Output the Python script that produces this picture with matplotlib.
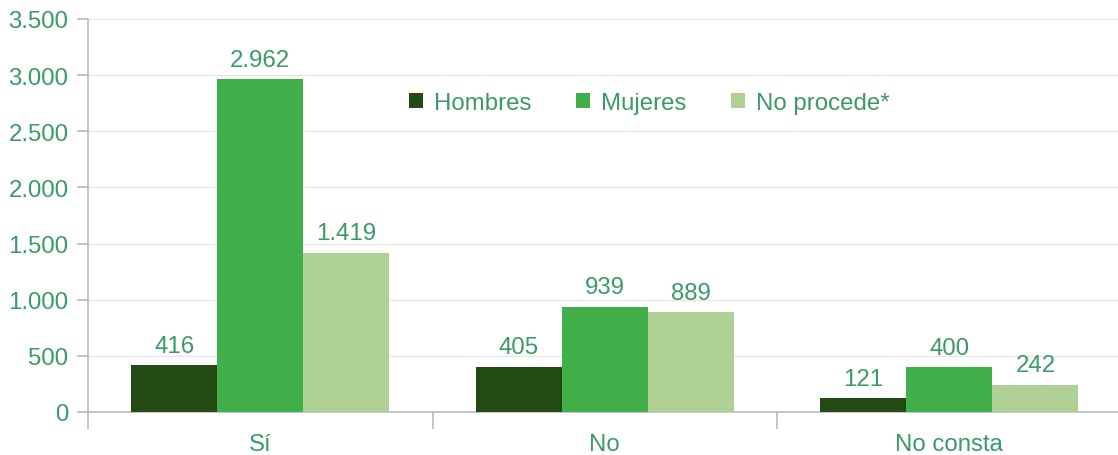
import matplotlib
matplotlib.use("Agg")
import matplotlib.pyplot as plt
import numpy as np
from matplotlib.ticker import FuncFormatter, FixedLocator

categories = ["Sí", "No", "No consta"]
series_names = ["Hombres", "Mujeres", "No procede*"]
hombres = [416, 405, 121]
mujeres = [2962, 939, 400]
no_procede = [1419, 889, 242]
colors = ["#234a14", "#41b04a", "#afd196"]
text_color = "#3a9a68"
fs = 17.3

plt.rcParams['font.family'] = ['Liberation Sans', 'DejaVu Sans']

fig = plt.figure(figsize=(11.18, 4.56), dpi=100)
ax = fig.add_axes([88/1118, 43/456, (1121.5-88)/1118, 393/456])

x = np.arange(len(categories))
w = 0.25
for i, (vals, name) in enumerate(zip([hombres, mujeres, no_procede], series_names)):
    pos = x + (i - 1) * w
    ax.bar(pos, vals, width=w, color=colors[i], label=name, zorder=3)
    for p, v in zip(pos, vals):
        ax.annotate(f"{v:,}".replace(",", "."), (p, v), xytext=(0, 6),
                    textcoords="offset points", ha="center", va="bottom",
                    color=text_color, fontsize=fs)

ax.set_xlim(-0.5, 2.5)
ax.set_ylim(0, 3500)
ax.set_yticks(np.arange(0, 3501, 500))
ax.yaxis.set_major_formatter(FuncFormatter(lambda v, p: f"{int(v):,}".replace(",", ".")))
ax.grid(axis="y", color="#e6e6e6", linewidth=1, zorder=0)
ax.tick_params(axis="y", colors="#bbbbbb", labelcolor=text_color, labelsize=fs,
               length=8, width=1.2, pad=6)
ax.xaxis.set_major_locator(FixedLocator([-0.5, 0.5, 1.5, 2.5]))
ax.xaxis.set_minor_locator(FixedLocator(x))
ax.tick_params(axis="x", which="major", colors="#bbbbbb", length=12, width=1.2, labelbottom=False)
ax.tick_params(axis="x", which="minor", length=0, labelcolor=text_color, labelsize=fs, pad=15)
ax.set_xticklabels(categories, minor=True)
for s in ["top", "right"]:
    ax.spines[s].set_visible(False)
for s in ["left", "bottom"]:
    ax.spines[s].set_color("#bbbbbb")
    ax.spines[s].set_linewidth(1.2)

ax.legend(loc="center", bbox_to_anchor=((649-88)/1033.5, (456-104-43)/393), ncol=3, frameon=False,
          handlelength=0.6, handleheight=0.6, handletextpad=0.45, columnspacing=1.85,
          fontsize=fs, labelcolor=text_color)

fig.savefig("out.png", dpi=100)
